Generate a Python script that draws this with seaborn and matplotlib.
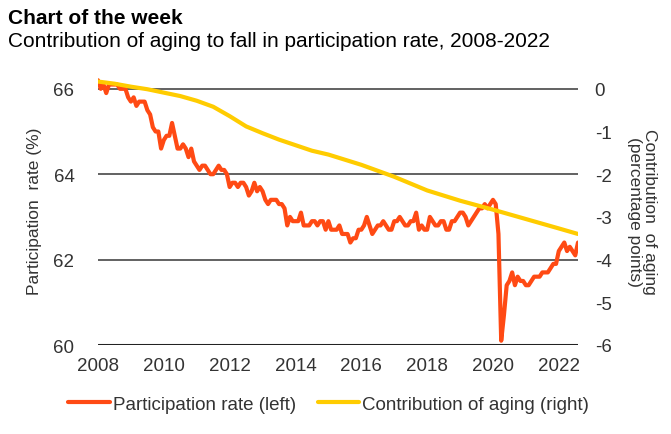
import numpy as np
import pandas as pd
import matplotlib
matplotlib.use('Agg')
import matplotlib.pyplot as plt
import seaborn as sns

# participation rate (%), monthly Jan 2008 - Aug 2022
participation = [
    66.2, 66.0, 66.1, 65.9, 66.1, 66.1, 66.1, 66.1, 66.0, 66.0, 66.0, 65.8,
    65.7, 65.8, 65.6, 65.7, 65.7, 65.7, 65.5, 65.4, 65.1, 65.0, 65.0, 64.6,
    64.8, 64.9, 64.9, 65.2, 64.9, 64.6, 64.6, 64.7, 64.6, 64.4, 64.6, 64.3,
    64.2, 64.1, 64.2, 64.2, 64.1, 64.0, 64.0, 64.1, 64.2, 64.1, 64.1, 64.0,
    63.7, 63.8, 63.8, 63.7, 63.8, 63.8, 63.7, 63.5, 63.6, 63.8, 63.6, 63.7,
    63.6, 63.4, 63.3, 63.4, 63.4, 63.4, 63.3, 63.3, 63.2, 62.8, 63.0, 62.9,
    62.9, 62.9, 63.1, 62.8, 62.8, 62.8, 62.9, 62.9, 62.8, 62.9, 62.9, 62.7,
    62.9, 62.7, 62.7, 62.7, 62.8, 62.6, 62.6, 62.6, 62.4, 62.5, 62.5, 62.7,
    62.7, 62.8, 63.0, 62.8, 62.6, 62.7, 62.8, 62.8, 62.9, 62.8, 62.7, 62.7,
    62.9, 62.9, 63.0, 62.9, 62.8, 62.8, 62.9, 62.9, 63.1, 62.7, 62.8, 62.7,
    62.7, 63.0, 62.9, 62.8, 62.8, 62.9, 62.9, 62.7, 62.7, 62.9, 62.9, 63.0,
    63.1, 63.1, 63.0, 62.8, 62.9, 63.0, 63.1, 63.2, 63.2, 63.3, 63.2, 63.3,
    63.4, 63.3, 62.6, 60.1, 60.7, 61.4, 61.5, 61.7, 61.4, 61.6, 61.5, 61.5,
    61.4, 61.4, 61.5, 61.6, 61.6, 61.6, 61.7, 61.7, 61.7, 61.8, 61.9, 61.9,
    62.2, 62.3, 62.4, 62.2, 62.3, 62.2, 62.1, 62.4,
]
part_time = 2008 + np.arange(len(participation)) / 12

# contribution of aging (percentage points)
aging_time = [2008, 2008.5, 2009, 2009.5, 2010, 2010.5, 2011, 2011.5, 2012,
              2012.5, 2013, 2013.5, 2014, 2014.5, 2015, 2016, 2017, 2018,
              2019, 2020, 2021, 2022, 2022 + 7 / 12]
aging = [0.17, 0.12, 0.05, -0.01, -0.09, -0.17, -0.28, -0.42, -0.64,
         -0.88, -1.04, -1.19, -1.32, -1.45, -1.54, -1.78, -2.06, -2.38,
         -2.62, -2.83, -3.05, -3.27, -3.40]

years = [2008, 2010, 2012, 2014, 2016, 2018, 2020, 2022]

RED = '#ff4a14'
YELLOW = '#ffcc00'
TXT = '#333333'

sns.set_style('white')
plt.rcParams['font.family'] = ['Liberation Sans', 'DejaVu Sans']
plt.rcParams['axes.unicode_minus'] = False

fig = plt.figure(figsize=(6.71, 4.35), dpi=100)
ax = fig.add_axes([98 / 671, 1 - 346 / 435, 480 / 671, 269 / 435])
ax2 = ax.twinx()

for v in [62, 64, 66]:
    ax.axhline(v, color='#555555', lw=1.3, zorder=0)
ax.axhline(60, color='#222222', lw=2.2, zorder=0)

sns.lineplot(x=part_time, y=participation, color=RED, lw=3, ax=ax)
sns.lineplot(x=aging_time, y=aging, color=YELLOW, lw=3, ax=ax2)

ax.set_xlim(2008, 2022 + 7 / 12)
ax.set_ylim(60, 66.3)
ax2.set_ylim(-6, 0.3)
ax.set_yticks([60, 62, 64, 66])
ax2.set_yticks([0, -1, -2, -3, -4, -5, -6])
ax.set_xticks(years)
ax.set_xticklabels([str(y) for y in years])

for a in (ax, ax2):
    for s in a.spines.values():
        s.set_visible(False)
    a.tick_params(length=0, labelsize=13.5, colors=TXT)
ax.tick_params(axis='y', pad=17)
ax.tick_params(axis='x', pad=9)
ax2.tick_params(axis='y', pad=12)

ax.set_ylabel('Participation  rate (%)', fontsize=12.5, color=TXT, labelpad=8)
ax2.set_ylabel('Contribution  of aging\n(percentage points)', fontsize=12.5,
               color=TXT, rotation=-90, labelpad=33, linespacing=1.0)

fig.text(0.012, 0.958, 'Chart of the week', fontsize=15, fontweight='bold',
         color='black', va='center')
fig.text(0.012, 0.905, 'Contribution of aging to fall in participation rate, 2008-2022',
         fontsize=15, color='black', va='center')

handles = [plt.Line2D([], [], color=RED, lw=3),
           plt.Line2D([], [], color=YELLOW, lw=3)]
fig.legend(handles, ['Participation rate (left)', 'Contribution of aging (right)'],
           loc='center', bbox_to_anchor=(0.49, 0.068), ncol=2, frameon=False,
           fontsize=13.5, handlelength=2.2, handletextpad=0.15, columnspacing=1.2,
           labelcolor=TXT)

fig.savefig('out.png', dpi=100)
